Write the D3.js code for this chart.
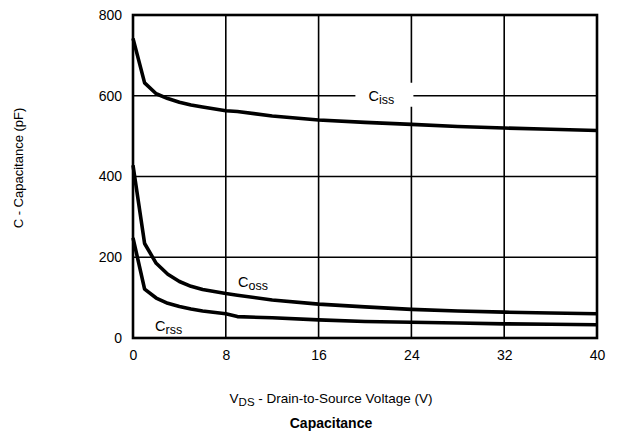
<!DOCTYPE html>
<html><head><meta charset="utf-8">
<script src="https://cdn.jsdelivr.net/npm/d3@7"></script>
<style>body{margin:0;background:#fff}svg{display:block}text{font-family:"Liberation Sans",Arial,Helvetica,sans-serif;fill:#000}</style>
</head><body>
<svg id="c" width="617" height="435"></svg>
<script>
const voltage = [0,1,2,3,4,5,6,8,9,12,16,20,24,28,32,36,40];
const ciss = [742,632,605,593,584,577,572,563,561,550,540,534,529,524,520,517,514];
const coss = [428,234,185,158,140,128,120,110,106,94,84,77,71,67,64,62,60];
const crss = [248,121,99,86,78,72,67,60,53,50,45,41,39,37,35,34,33];
const xTicks = [0,8,16,24,32,40];
const yTicks = [0,200,400,600,800];

const svg = d3.select("#c");
const m = {l:133, t:15, r:597, b:338};
const x = d3.scaleLinear().domain([0,40]).range([m.l, m.r]);
const y = d3.scaleLinear().domain([0,800]).range([m.b, m.t]);

// grid
svg.append("g").selectAll("line").data(xTicks.slice(1,-1)).join("line")
  .attr("x1",d=>x(d)).attr("x2",d=>x(d)).attr("y1",m.t).attr("y2",m.b)
  .attr("stroke","#000").attr("stroke-width",1.6);
svg.append("g").selectAll("line").data(yTicks.slice(1,-1)).join("line")
  .attr("x1",m.l).attr("x2",m.r).attr("y1",d=>y(d)).attr("y2",d=>y(d))
  .attr("stroke","#000").attr("stroke-width",1.6);

// Ciss label box
svg.append("rect").attr("x",x(24)-56).attr("y",y(600)-13).attr("width",58).attr("height",24).attr("fill","#fff");

// curves
const line = d3.line().x((d,i)=>x(voltage[i])).y(d=>y(d));
[ciss,coss,crss].forEach(s=>{
  svg.append("path").attr("d",line(s)).attr("fill","none").attr("stroke","#000")
    .attr("stroke-width",3.6).attr("stroke-linejoin","round");
});

// frame
svg.append("rect").attr("x",m.l).attr("y",m.t).attr("width",m.r-m.l).attr("height",m.b-m.t)
  .attr("fill","none").attr("stroke","#000").attr("stroke-width",2.6);

// axes tick labels
const xa = d3.axisBottom(x).tickValues(xTicks).tickSize(0).tickPadding(12);
svg.append("g").attr("transform",`translate(0,${m.b})`).call(xa)
  .call(g=>g.select(".domain").remove())
  .selectAll("text").attr("font-size",14).style("font-family","Liberation Sans, Arial, sans-serif");
const ya = d3.axisLeft(y).tickValues(yTicks).tickSize(0).tickPadding(11);
svg.append("g").attr("transform",`translate(${m.l},0)`).call(ya)
  .call(g=>g.select(".domain").remove())
  .selectAll("text").attr("font-size",14).style("font-family","Liberation Sans, Arial, sans-serif");

// curve labels
function capLabel(px,py,sub){
  const t = svg.append("text").attr("x",px).attr("y",py).attr("font-size",14.5);
  t.append("tspan").text("C");
  t.append("tspan").attr("font-size",12.5).attr("dy",3).text(sub);
}
capLabel(x(24)-43, y(600)+5, "iss");
capLabel(238, 287, "oss");
capLabel(155, 331, "rss");

// axis titles
const xt = svg.append("text").attr("x",331).attr("y",403).attr("text-anchor","middle").attr("font-size",13.5);
xt.append("tspan").text("V");
xt.append("tspan").attr("font-size",11.5).attr("dy",3).text("DS");
xt.append("tspan").attr("dy",-3).text(" - Drain-to-Source Voltage (V)");
svg.append("text").attr("x",331).attr("y",428).attr("text-anchor","middle").attr("font-size",14)
  .attr("font-weight","bold").text("Capacitance");
svg.append("text").attr("transform","translate(23,168) rotate(-90)").attr("text-anchor","middle")
  .attr("font-size",13).text("C -  Capacitance (pF)");
</script>
</body></html>
